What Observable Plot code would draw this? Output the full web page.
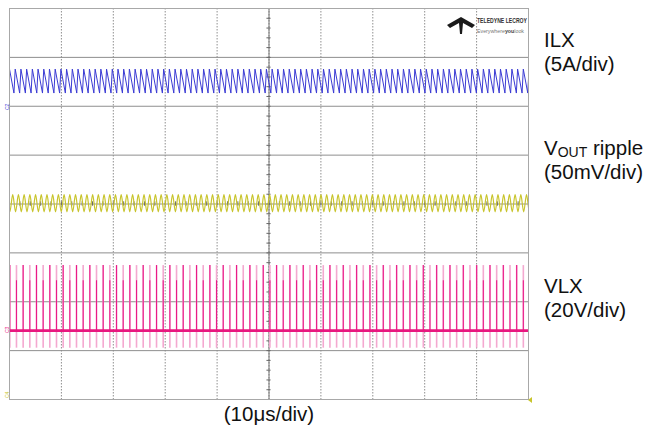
<!DOCTYPE html>
<html><head><meta charset="utf-8">
<script src="https://cdn.jsdelivr.net/npm/d3@7"></script>
<script src="https://cdn.jsdelivr.net/npm/@observablehq/plot@0.6"></script>
<style>
body{margin:0;background:#fff;}
#wrap{position:relative;width:666px;height:435px;font-family:"Liberation Sans",Arial,sans-serif;}
#wrap svg{display:block}
#overlay{position:absolute;left:0;top:0;pointer-events:none}
</style></head><body><div id="wrap"></div><script>
// ---- data (read from the scope capture) ----
const timeGridUs = [0, 10, 20, 30, 40, 50, 60, 70, 80, 90, 100];   // 10 µs/div
const divGrid = [-4, -3, -2, -1, 0, 1, 2, 3, 4];                      // vertical divisions
const channelNames = ["ILX", "VOUT ripple", "VLX"];
const channelScales = ["(5A/div)", "(50mV/div)", "(20V/div)"];
const timeScaleLabel = "(10μs/div)";

// ILX: sawtooth, levels in divisions [trough, peak]
const ilxLevels = [2.27, 2.76];
const ilxPeriodUs = 1.1;
const ilxRiseFraction = 0.22;
// VOUT ripple: [trough, peak] in divisions
const voutLevels = [-0.16, 0.19];
const voutPeriodUs = 1.1;
const voutPhaseUs = 0.62;
// VLX: [spike bottom, baseline, bright top (short), spike top]
const vlxLevels = [-2.95, -2.59, -1.57, -1.26];
const vlxPeriodUs = 1.285;
const vlxPhaseUs = 0.06;

// ---- build vertices from the per-cycle levels ----
const ilx = [];
for (let k = 0; k * ilxPeriodUs <= 101; k++) {
  const t0 = k * ilxPeriodUs;
  ilx.push({t: t0, v: ilxLevels[1]});
  ilx.push({t: t0 + (1 - ilxRiseFraction) * ilxPeriodUs, v: ilxLevels[0]});
}
const vout = [];
for (let k = -1; k * voutPeriodUs <= 101; k++) {
  const t0 = voutPhaseUs + k * voutPeriodUs;
  vout.push({t: t0, v: voutLevels[1]});
  vout.push({t: t0 + voutPeriodUs / 2, v: voutLevels[0]});
}
const vlx = [];
for (let k = 0; vlxPhaseUs + k * vlxPeriodUs <= 100; k++) {
  vlx.push({t: vlxPhaseUs + k * vlxPeriodUs, bright: k % 2 === 0});
}
const minorX = d3.range(0, 100.01, 2);
const minorY = d3.range(-4, 4.01, 0.2);

const chart = Plot.plot({
  width: 666, height: 435,
  marginLeft: 9, marginRight: 138, marginTop: 8, marginBottom: 36,
  x: {domain: [0, 100], axis: null},
  y: {domain: [-4, 4], axis: null},
  style: {background: "#fff"},
  marks: [
    Plot.ruleX(timeGridUs, {stroke: "#8f8f8f", strokeWidth: 1, strokeDasharray: "1.5,1.5"}),
    Plot.ruleY(divGrid, {stroke: "#8e8e8e", strokeWidth: 1}),
    Plot.ruleX([50], {stroke: "#777", strokeWidth: 1}),
    Plot.ruleX(minorX, {x: d => d, y1: -0.045, y2: 0.045, stroke: "#666"}),
    Plot.ruleY(minorY, {y: d => d, x1: 49.6, x2: 50.4, stroke: "#666"}),
    // VLX spikes
    Plot.ruleX(vlx, {x: "t", y1: vlxLevels[0], y2: vlxLevels[3], stroke: "#f4a8d0", strokeWidth: 1.6}),
    Plot.ruleX(vlx, {x: "t", y1: vlxLevels[1], y2: d => d.bright ? vlxLevels[3] : vlxLevels[2], stroke: "#ea1a88", strokeWidth: 1.1}),
    Plot.ruleY([vlxLevels[1]], {stroke: "#e8177f", strokeWidth: 2.6}),
    // VOUT ripple
    Plot.line(vout, {x: "t", y: "v", curve: "catmull-rom", stroke: "#c8c42c", strokeWidth: 1.2, clip: true}),
    // ILX
    Plot.line(ilx, {x: "t", y: "v", stroke: "#3a3ad4", strokeWidth: 1, clip: true}),
    Plot.frame({stroke: "#a8a8a8"})
  ]
});
const wrap = document.getElementById("wrap");
wrap.appendChild(chart);

// ---- overlay labels ----
const ov = d3.select(wrap).append("svg").attr("id", "overlay")
  .attr("width", 666).attr("height", 435)
  .style("font-family", '"Liberation Sans", Arial, sans-serif');
const fs = 20.5;
const lab = [
  {name: channelNames[0], scale: channelScales[0], y: 47},
  {name: channelNames[1], scale: channelScales[1], y: 155},
  {name: channelNames[2], scale: channelScales[2], y: 293}
];
lab.forEach((d, i) => {
  const t = ov.append("text").attr("x", 544).attr("y", d.y).attr("font-size", fs).attr("fill", "#111");
  if (i === 1) {
    t.append("tspan").text("V");
    t.append("tspan").attr("font-size", 14).attr("dy", 2).text("OUT");
    t.append("tspan").attr("dy", -2).text(" ripple");
  } else {
    t.text(d.name);
  }
  ov.append("text").attr("x", 544).attr("y", d.y + 24).attr("font-size", fs).attr("fill", "#111").text(d.scale);
});
ov.append("text").attr("x", 269).attr("y", 421).attr("text-anchor", "middle")
  .attr("font-size", fs).attr("fill", "#111").text(timeScaleLabel);

// LeCroy logo
ov.append("path").attr("d", "M447,25 L461,17 L475,25 L472,28 L463,23 L462,34 L460,34 L459,23 L450,28 Z").attr("fill", "#1a1a1a");
ov.append("text").attr("x", 477).attr("y", 23).attr("font-size", 6.5).attr("font-weight", "bold")
  .attr("fill", "#333").attr("textLength", 50).attr("lengthAdjust", "spacingAndGlyphs").text("TELEDYNE LECROY");
ov.append("text").attr("x", 477).attr("y", 33).attr("font-size", 5.5)
  .attr("fill", "#777").attr("textLength", 47).attr("lengthAdjust", "spacingAndGlyphs")
  .html('Everywhere<tspan font-weight="bold" fill="#444">you</tspan>look');
// channel markers
ov.append("text").attr("transform", "translate(9,110) rotate(-90)").attr("font-size", 5).attr("fill", "#3a3ad4").text("C2");
ov.append("text").attr("transform", "translate(9,333) rotate(-90)").attr("font-size", 5).attr("fill", "#e8177f").text("C3");
ov.append("text").attr("transform", "translate(9,398) rotate(-90)").attr("font-size", 5).attr("fill", "#c8c42c").text("C4");
ov.append("path").attr("d", "M528,400 L532,397 L532,403 Z").attr("fill", "#c8c42c");
</script></body></html>
